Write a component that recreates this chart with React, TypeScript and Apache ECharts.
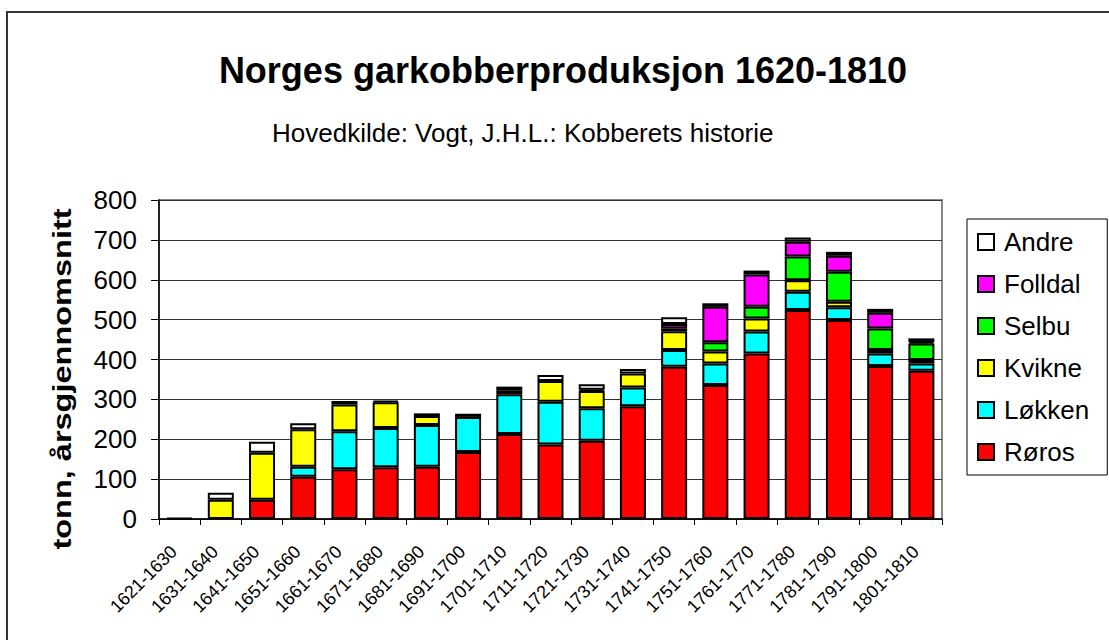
import React, { useEffect, useRef } from "react";
import * as echarts from "echarts";

const categories = [
  "1621-1630", "1631-1640", "1641-1650", "1651-1660", "1661-1670", "1671-1680",
  "1681-1690", "1691-1700", "1701-1710", "1711-1720", "1721-1730", "1731-1740",
  "1741-1750", "1751-1760", "1761-1770", "1771-1780", "1781-1790", "1791-1800",
  "1801-1810",
];
const roros = [null, null, 48, 106, 125, 130, 131, 168, 213, 187, 196, 283, 382, 336, 415, 524, 499, 384, 372];
const lokken = [null, null, null, 25, 95, 98, 105, 88, 100, 107, 82, 47, 42, 54, 55, 46, 32, 31, 18];
const kvikne = [null, 48, 118, 94, 67, 65, 22, null, 10, 52, 43, 35, 47, 30, 33, 29, 14, 9, 9];
const selbu = [null, null, null, null, null, null, null, null, null, null, 3, null, 7, 23, 29, 59, 75, 54, 41];
const folldal = [null, null, null, null, null, null, null, null, null, null, null, null, 11, 89, 81, 37, 40, 39, 4];
const andre = [2, 18, 28, 15, 9, 3, 7, 8, 9, 15, 14, 11, 17, 9, 10, 11, 10, 10, 9];
const yTicks = [0, 100, 200, 300, 400, 500, 600, 700, 800];

const FONT = "'Liberation Sans', Arial, sans-serif";

export default function App() {
  const ref = useRef<HTMLDivElement>(null);
  useEffect(() => {
    if (!ref.current) return;
    const chart = echarts.init(ref.current, null, { renderer: "svg" });
    const mk = (name: string, data: (number | null)[], color: string) => ({
      name,
      type: "bar",
      stack: "total",
      data,
      barWidth: 26,
      itemStyle: { color, borderColor: "#000", borderWidth: 2 },
    });
    chart.setOption({
      animation: false,
      backgroundColor: "#fff",
      textStyle: { fontFamily: FONT },
      graphic: [
        {
          type: "rect",
          shape: { x: 7, y: 12, width: 1200, height: 700 },
          style: { fill: "none", stroke: "#333", lineWidth: 2 },
          silent: true,
        },
        {
          type: "text",
          x: 563,
          y: 70,
          style: {
            text: "Norges garkobberproduksjon 1620-1810",
            fontSize: 36,
            fontWeight: "bold",
            fontFamily: FONT,
            fill: "#000",
            align: "center",
            verticalAlign: "middle",
          },
        },
        {
          type: "text",
          x: 272,
          y: 133,
          style: {
            text: "Hovedkilde: Vogt, J.H.L.: Kobberets historie",
            fontSize: 26,
            fontFamily: FONT,
            fill: "#000",
            align: "left",
            verticalAlign: "middle",
          },
        },
        {
          type: "text",
          x: 62,
          y: 379,
          rotation: Math.PI / 2,
          scaleX: 1.25,
          style: {
            text: "tonn, årsgjennomsnitt",
            fontSize: 26,
            fontWeight: "bold",
            fontFamily: FONT,
            fill: "#000",
            align: "center",
            verticalAlign: "middle",
          },
        },
      ],
      legend: {
        orient: "vertical",
        left: 967,
        top: 219,
        data: ["Andre", "Folldal", "Selbu", "Kvikne", "Løkken", "Røros"],
        icon: "rect",
        itemWidth: 16,
        itemHeight: 16,
        itemGap: 12,
        padding: [8, 18, 8, 10],
        borderColor: "#000",
        borderWidth: 1,
        textStyle: { fontSize: 26, fontFamily: FONT, color: "#000", lineHeight: 30, padding: [0, 0, 0, 5] },
      },
      grid: {
        left: 159,
        right: 167,
        top: 200,
        bottom: 121,
        show: true,
        borderColor: "#888",
        borderWidth: 2,
        backgroundColor: "transparent",
      },
      xAxis: {
        type: "category",
        data: categories,
        axisLine: { lineStyle: { color: "#000", width: 1.5 } },
        axisTick: { show: true, alignWithLabel: false, length: 6, lineStyle: { color: "#000" } },
        axisLabel: {
          rotate: 45,
          fontSize: 18,
          fontFamily: FONT,
          color: "#000",
          margin: 24,
          padding: [0, 8, 0, 0],
          interval: 0,
        },
      },
      yAxis: {
        type: "value",
        min: yTicks[0],
        max: yTicks[yTicks.length - 1],
        interval: 100,
        axisLine: { show: true, lineStyle: { color: "#000", width: 1.5 } },
        axisTick: { show: true, length: 8, lineStyle: { color: "#000" } },
        axisLabel: { fontSize: 26, fontFamily: FONT, color: "#000", margin: 22 },
        splitLine: { lineStyle: { color: "#333", width: 1 } },
      },
      series: [
        mk("Røros", roros, "#FF0000"),
        mk("Løkken", lokken, "#00FFFF"),
        mk("Kvikne", kvikne, "#FFFF00"),
        mk("Selbu", selbu, "#00FF00"),
        mk("Folldal", folldal, "#FF00FF"),
        mk("Andre", andre, "#FFFFFF"),
      ],
    });
    return () => chart.dispose();
  }, []);
  return (
    <div style={{ position: "absolute", left: 0, top: 0, width: 1109, height: 640, overflow: "hidden" }}>
      <div ref={ref} style={{ width: 1109, height: 640 }} />
    </div>
  );
}
